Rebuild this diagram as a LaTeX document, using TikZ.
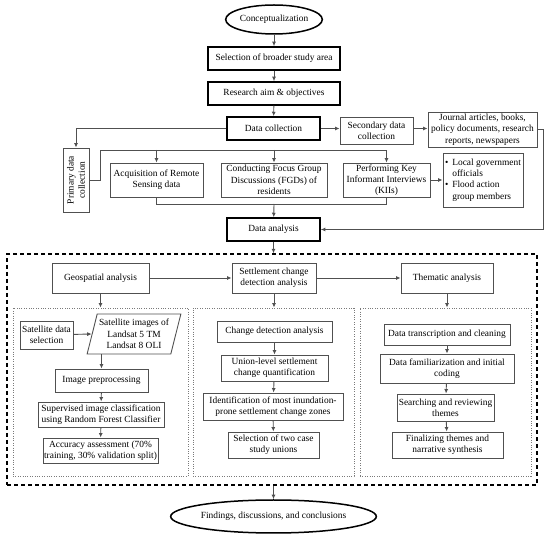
\documentclass[tikz,border=0pt]{standalone}
\usepackage{fontspec}
\setmainfont{Liberation Serif}
\usetikzlibrary{arrows.meta,positioning,calc,shapes.geometric}
\definecolor{boxgray}{HTML}{505050}
\definecolor{dotgray}{HTML}{7A7A7A}

\begin{document}
\begin{tikzpicture}[x=1pt,y=1pt,>={Latex[length=4.5pt,width=4pt]},
  every node/.style={font=\fontsize{9.4}{11.3}\selectfont,align=center,inner sep=0pt},
  box/.style={draw=boxgray,line width=.9pt,minimum width=#1},box/.default=60,
  mainbox/.style={draw=black,line width=1.5pt,minimum width=#1,minimum height=23},
  oval/.style={ellipse,draw=black,line width=1.5pt},
  grp/.style={draw=dotgray,line width=.9pt,dash pattern=on .8pt off 1.6pt},
  link/.style={boxgray,line width=.9pt},
  arr/.style={link,->}]
\useasboundingbox (0,0) rectangle (550,-537);
\node[oval,minimum width=92,minimum height=29] (concept) at (274,-19.5) {Conceptualization};
\node[mainbox=132] (study) at (274,-58.5) {Selection of broader study area};
\node[mainbox=132] (aim) at (274,-93.5) {Research aim \& objectives};
\node[mainbox=93] (dc) at (273.5,-128.5) {Data collection};
\node[box=73,minimum height=27] (sec) at (376.5,-130.5) {Secondary data\\collection};
\node[box=109,minimum height=35] (jour) at (482.5,-129.5) {Journal articles, books,\\policy documents, research\\reports, newspapers};
\node[box=64,minimum height=26,rotate=90] (prim) at (76,-180) {Primary data\\collection};
\node[box=93,minimum height=34] (acq) at (156.5,-180) {Acquisition of Remote\\Sensing data};
\node[box=106,minimum height=34] (fgd) at (274,-180) {Conducting Focus Group\\Discussions (FGDs) of\\residents};
\node[box=87,minimum height=34] (kii) at (386.5,-180) {Performing Key\\Informant Interviews\\(KIIs)};
\node[box=80,minimum height=54,align=left] (infm) at (483,-180) {\begin{tabular}{@{}l@{\hspace{4pt}}l@{}}\textbullet&Local government\\&officials\\\textbullet&Flood action\\&group members\end{tabular}};
\node[mainbox=93] (da) at (273.5,-229.5) {Data analysis};
\coordinate (pbus) at (100,-150);
\coordinate (cbus) at (274,-204);

\draw[arr] (concept) -- (study);
\draw[arr] (study) -- (aim);
\draw[arr] (aim) -- (dc);
\draw[arr] (dc.east) -- (dc.east -| sec.west);
\draw[arr] (sec.east |- dc.east) -- (jour.west |- dc.east);
\draw[arr] (dc.west) -| (prim);
\draw[arr] (prim) -| (pbus) -| (kii.north);
\draw[arr] (pbus -| acq.north) -- (acq);
\draw[arr] (pbus -| fgd.north) -- (fgd);
\draw[arr] (kii) -- (infm);
\draw[link] (acq.south) |- (cbus -| kii.south) -- (kii.south);
\draw[arr] (cbus) -- (da);
\draw[arr] (jour.east) -- ++(6,0) |- (da.east);

\node[draw=black,line width=1.4pt,dash pattern=on 4pt off 3pt,minimum width=530,minimum height=231] (frame) at (272,-369.5) {};
\draw[arr] (da) -- (da |- frame.north);
\node[box=97,minimum height=30] (geo) at (100.5,-278) {Geospatial analysis};
\node[box=84,minimum height=30] (set) at (274,-278) {Settlement change\\detection analysis};
\node[box=92,minimum height=30] (them) at (447,-278) {Thematic analysis};
\node[grp,minimum width=175,minimum height=168] (geobox) at (100.5,-392) {};
\node[grp,minimum width=161,minimum height=168] (setbox) at (273.5,-392) {};
\node[grp,minimum width=171,minimum height=168] (thembox) at (445.5,-392) {};
\draw[arr] (geo) -- (set);
\draw[arr] (set) -- (them);
\draw[arr] (geo) -- (geo |- geobox.north);
\draw[arr] (set) -- (set |- setbox.north);
\draw[arr] (them) -- (them |- thembox.north);

\node[box=53,minimum height=28] (satsel) at (46.5,-335) {Satellite data\\selection};
\node[draw=boxgray,line width=.9pt,trapezium,trapezium left angle=72,trapezium right angle=108,trapezium stretches=true,minimum width=94,minimum height=40] (img) at (134,-334) {Satellite images of\\Landsat 5 TM\\Landsat 8 OLI};
\node[box=93,minimum height=23] (pre) at (101.5,-380.5) {Image preprocessing};
\node[box=126,minimum height=25] (sup) at (101,-414.5) {Supervised image classification\\using Random Forest Classifier};
\node[box=115,minimum height=25] (acc) at (100.5,-450.5) {Accuracy assessment (70\%\\training, 30\% validation split)};
\draw[arr] (satsel) -- (img.west);
\draw[arr] (pre.north |- img.south) -- (pre);

\node[box=115,minimum height=21] (chg) at (274.5,-331.5) {Change detection analysis};
\node[box=107,minimum height=26] (uni) at (274.5,-368) {Union-level settlement\\change quantification};
\node[box=140,minimum height=27] (idf) at (273,-406.5) {Identification of most inundation-\\prone settlement change zones};
\node[box=91,minimum height=26] (two) at (273.5,-445) {Selection of two case\\study unions};

\node[box=126,minimum height=21] (trn) at (447,-334.5) {Data transcription and cleaning};
\node[box=134,minimum height=29] (fam) at (447,-368.5) {Data familiarization and initial\\coding};
\node[box=97,minimum height=27] (srch) at (445.5,-407.5) {Searching and reviewing\\themes};
\node[box=111,minimum height=26] (fin) at (447.5,-445) {Finalizing themes and\\narrative synthesis};
\foreach \a/\b in {pre/sup,sup/acc,chg/uni,uni/idf,idf/two,trn/fam,fam/srch,srch/fin}
  \draw[arr] (\a) -- (\b);

\node[oval,minimum width=167,minimum height=33] (find) at (273.5,-516.5) {Findings, discussions, and conclusions};
\draw[arr] (find |- frame.south) -- (find);
\end{tikzpicture}
\end{document}
